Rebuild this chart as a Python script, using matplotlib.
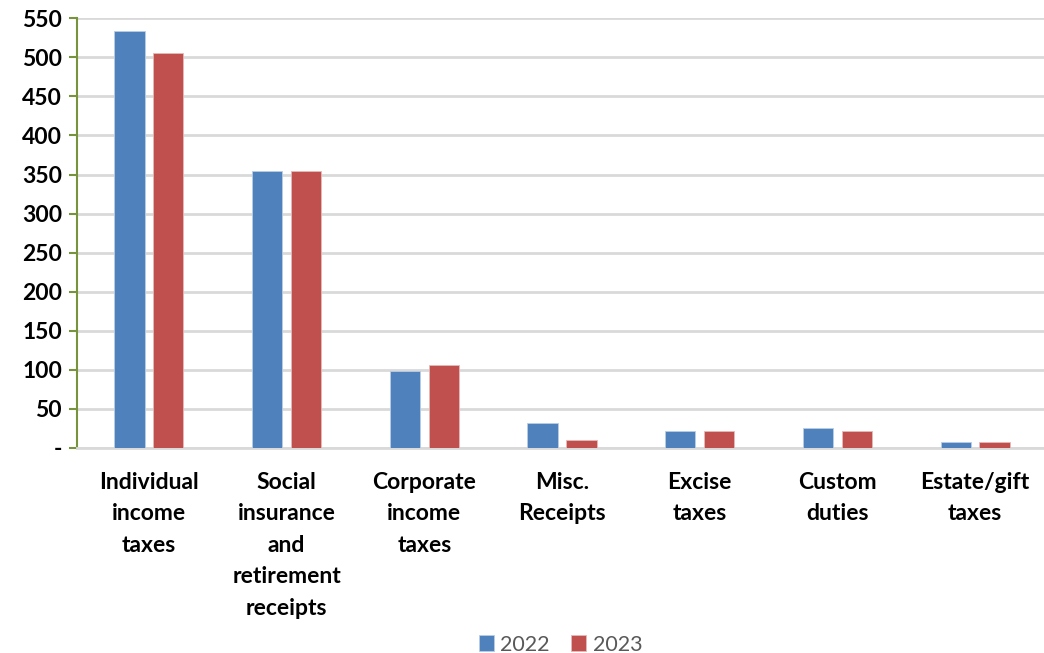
import numpy as np
import matplotlib.pyplot as plt
from matplotlib.ticker import FuncFormatter

# data
categories = ["Individual\nincome\ntaxes", "Social\ninsurance\nand\nretirement\nreceipts",
              "Corporate\nincome\ntaxes", "Misc.\nReceipts", "Excise\ntaxes",
              "Custom\nduties", "Estate/gift\ntaxes"]
y2022 = [534, 355, 99, 32, 22, 25, 7]
y2023 = [505, 355, 106, 10, 22, 22, 7]
years = ["2022", "2023"]

plt.rcParams['font.family'] = ['Lato', 'DejaVu Sans']

fig = plt.figure(figsize=(10.44, 6.53), dpi=100)
ax = fig.add_axes([0.074, 0.314, 0.926, 0.658])

x = np.arange(len(categories))
w = 0.22
ax.bar(x - 0.141, y2022, w, color="#4F81BD", edgecolor="#B9CDE5", linewidth=0.6, label=years[0], zorder=3)
ax.bar(x + 0.141, y2023, w, color="#C0504D", edgecolor="#E6B9B8", linewidth=0.6, label=years[1], zorder=3)

ax.set_xlim(-0.52, len(categories) - 0.5)
ax.set_ylim(0, 550)
ax.set_yticks(range(0, 551, 50))
ax.yaxis.set_major_formatter(FuncFormatter(lambda v, p: "-" if v == 0 else f"{int(v)}"))
ax.grid(axis="y", color="#D9D9D9", linewidth=2, zorder=0)

for s in ["top", "right"]:
    ax.spines[s].set_visible(False)
ax.spines["left"].set_color("#77933C")
ax.spines["left"].set_linewidth(1.5)
ax.spines["bottom"].set_color("#D9D9D9")
ax.spines["bottom"].set_linewidth(2)

ax.tick_params(axis="y", direction="out", length=6, width=1.5, color="#77933C",
               labelsize=16.5, pad=5)
ax.tick_params(axis="x", length=0, labelsize=16.5, pad=17)
for lab in ax.get_yticklabels():
    lab.set_fontweight("bold")
ax.set_xticks(x)
ax.set_xticklabels(categories, fontweight="bold", linespacing=1.62, va="top")

leg = fig.legend(loc="lower center", bbox_to_anchor=(0.537, -0.032), ncol=2, frameon=False,
                 fontsize=15.5, handlelength=0.7, handleheight=0.7, columnspacing=1.0,
                 handletextpad=0.3)
for t in leg.get_texts():
    t.set_color("#595959")

fig.savefig("out.png", dpi=100)
